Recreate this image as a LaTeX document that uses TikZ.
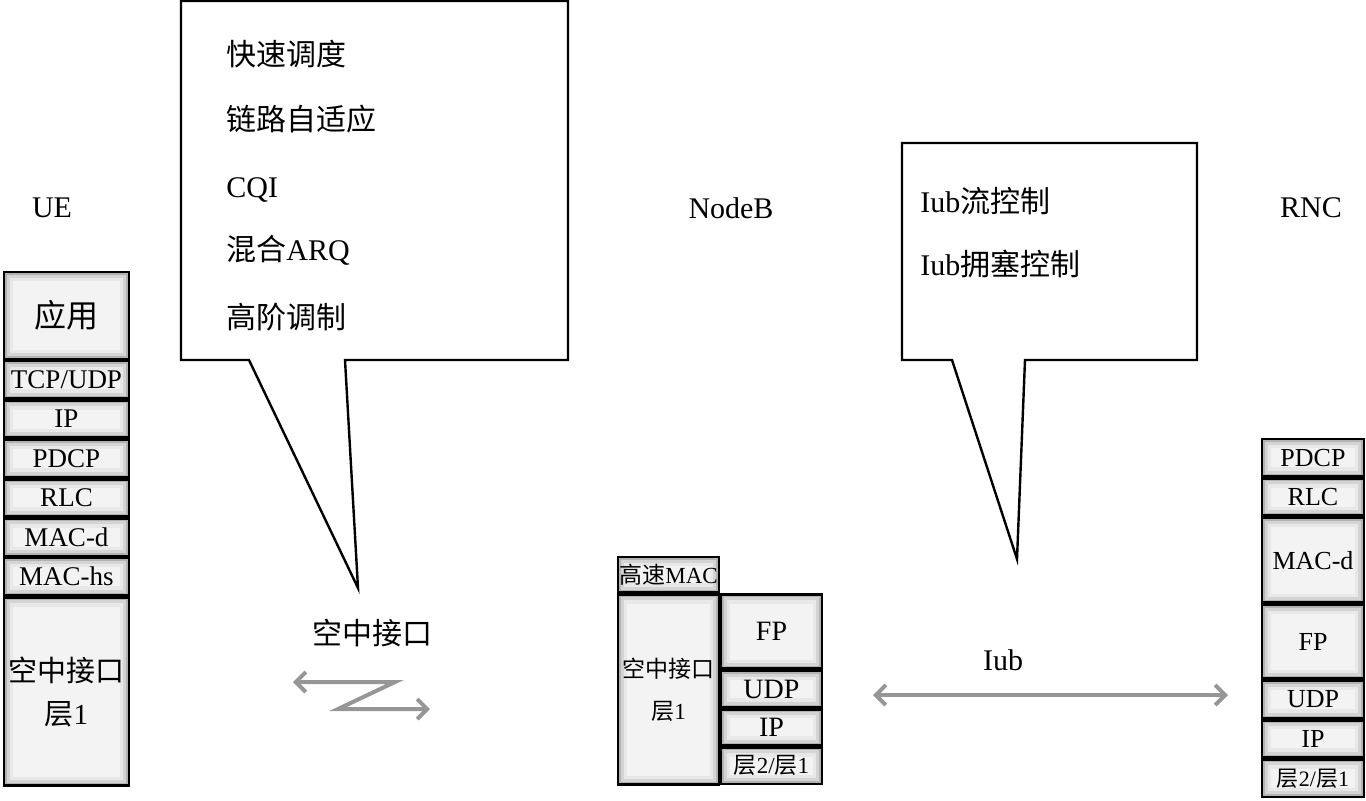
\documentclass[tikz,border=0pt]{standalone}
\usepackage{fontspec}
\setmainfont{Liberation Serif}
\newfontfamily\cjk{Noto Sans CJK SC}
\usepackage{tikz}
\usetikzlibrary{arrows.meta,positioning}

\definecolor{linkgray}{RGB}{150,150,150}
\definecolor{stackfill}{RGB}{243,243,243}
\newcommand{\fs}[2]{\fontsize{#1}{#2}\selectfont}

\begin{document}
\begin{tikzpicture}[
    x=0.5pt, y=-0.5pt,
    stackbox/.style={draw, line width=1.2pt, fill=stackfill, inner sep=0pt, align=center, minimum height=18.5pt,
      path picture={
        \draw[black!9, line width=9pt] (path picture bounding box.south west) rectangle (path picture bounding box.north east);
        \draw[black!17, line width=5.5pt] (path picture bounding box.south west) rectangle (path picture bounding box.north east);
        \draw[black!30, line width=2.5pt] (path picture bounding box.south west) rectangle (path picture bounding box.north east);}},
    uebox/.style={stackbox, minimum width=62.3pt, font=\fs{13.5}{16}},
    nbbox/.style={stackbox, minimum width=50.3pt, minimum height=18pt, font=\fs{14}{16}},
    rncbox/.style={stackbox, minimum width=50.8pt, font=\fs{13}{16}},
    site/.style={font=\fs{15}{18}},
    bubble/.style={draw, line width=1.2pt, fill=white},
    cline/.style={anchor=west, inner sep=0pt, text height=10.5pt, text depth=0pt, font=\fs{15}{18}},
    link/.style={draw=linkgray, line width=2pt, {Straight Barb[length=5pt,width=10pt]}-{Straight Barb[length=5pt,width=10pt]}}
]
\useasboundingbox (0,0) rectangle (1366,800);

% stations
\node[site] (ue) at (52,208) {UE};
\node[site] (nodeb) at (731,208) {NodeB};
\node[site] (rnc) at (1311,208) {RNC};

% UE stack
\node[uebox, anchor=north, minimum height=43.3pt, font=\fs{16}{18}] (ueapp) at (66.5,271) {\cjk 应用};
\node[uebox, below=0pt of ueapp] (uetcp) {TCP/UDP};
\node[uebox, below=0pt of uetcp] (ueip) {IP};
\node[uebox, below=0pt of ueip] (uepdcp) {PDCP};
\node[uebox, below=0pt of uepdcp] (uerlc) {RLC};
\node[uebox, below=0pt of uerlc] (uemacd) {MAC-d};
\node[uebox, below=0pt of uemacd] (uemachs) {MAC-hs};
\node[uebox, below=0pt of uemachs, minimum height=94pt, font=\fs{14.5}{21.5}] (ueair) {{\cjk 空中接口}\\{\cjk 层}1};

% NodeB stack
\node[nbbox, anchor=north, minimum height=17.5pt, font=\fs{11.5}{14}] (nbhs) at (668.5,556) {{\cjk 高速}MAC};
\node[nbbox, below=0pt of nbhs, minimum height=95pt, font=\fs{11.5}{21}] (nbair) {{\cjk 空中接口}\\{\cjk 层}1};
\node[nbbox, right=0pt of nbair.north east, anchor=north west, minimum height=37pt] (nbfp) {FP};
\node[nbbox, below=0pt of nbfp] (nbudp) {UDP};
\node[nbbox, below=0pt of nbudp] (nbip) {IP};
\node[nbbox, below=0pt of nbip, font=\fs{11.5}{14}] (nbl2) {{\cjk 层}2/{\cjk 层}1};

% RNC stack
\node[rncbox, anchor=north] (rncpdcp) at (1313,438) {PDCP};
\node[rncbox, below=0pt of rncpdcp] (rncrlc) {RLC};
\node[rncbox, below=0pt of rncrlc, minimum height=42.3pt] (rncmacd) {MAC-d};
\node[rncbox, below=0pt of rncmacd, minimum height=36.8pt] (rncfp) {FP};
\node[rncbox, below=0pt of rncfp] (rncudp) {UDP};
\node[rncbox, below=0pt of rncudp] (rncip) {IP};
\node[rncbox, below=0pt of rncip, font=\fs{11}{14}] (rncl2) {{\cjk 层}2/{\cjk 层}1};

% HSDPA features
\draw[bubble] (181,1) -- (568,1) -- (568,360) -- (345,360) -- (358,588) -- (249,360) -- (181,360) -- cycle;
\node[cline] (fastsched) at (226,55) {\cjk 快速调度};
\node[cline] (linkadapt) at (226,120) {\cjk 链路自适应};
\node[cline] (cqi) at (226,187) {CQI};
\node[cline] (harq) at (226,250) {{\cjk 混合}ARQ};
\node[cline] (hom) at (226,318) {\cjk 高阶调制};

% Iub features
\draw[bubble] (902,143) -- (1197,143) -- (1197,360) -- (1025,360) -- (1017,559) -- (952,360) -- (902,360) -- cycle;
\node[cline] (iubfc) at (920,202) {Iub{\cjk 流控制}};
\node[cline] (iubcc) at (920,265) {Iub{\cjk 拥塞控制}};

% air interface
\node[site] (airlbl) at (372,633) {\cjk 空中接口};
\coordinate (airL) at (293,682);
\coordinate (airR) at (430,709);
\draw[link] (airL) -- (395,682) -- (338,709) -- (airR);

% Iub
\node[site] (iublbl) at (1003,660) {Iub};
\coordinate (iubL) at (873,695);
\coordinate (iubR) at (1228,695);
\draw[link] (iubL) -- (iubR);
\end{tikzpicture}
\end{document}
